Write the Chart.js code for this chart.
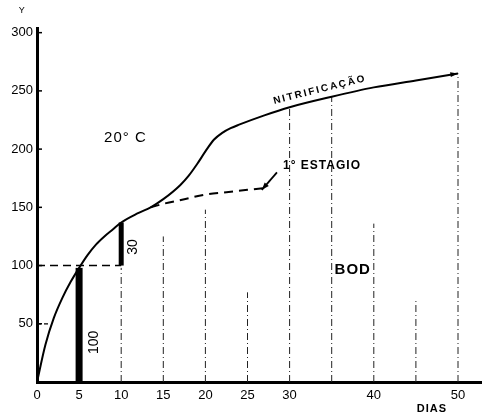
<!DOCTYPE html>
<html lang="pt">
<head>
    <meta charset="UTF-8"/>
    <title>BOD - Nitrificação</title>
    <script src="https://cdn.jsdelivr.net/npm/chart.js@4.4.0/dist/chart.umd.min.js"></script>
    <style>
        html, body { margin: 0; padding: 0; background: #fff; }
        #wrap { width: 482px; height: 418px; }
    </style>
</head>
<body>

<div id="wrap">
    <canvas id="chart" width="482" height="418"></canvas>
</div>

<script>
    // values
    const nitriDays = [0, 1, 2, 3, 4, 5, 6, 7, 8, 9, 10, 12, 13.5, 15, 17, 18, 19, 20, 21, 22, 23, 24, 27, 30, 35, 40, 45, 50];
    const nitriBod = [0, 32, 55, 72, 86, 98, 109, 118, 125, 131, 137, 145, 150, 157, 169, 177, 187, 198, 208, 214, 218, 221, 229, 236, 245, 253, 259, 265];

    const stageDays = [13.5, 15, 17.5, 20, 22.5, 25, 27.5];
    const stageBod = [150, 153, 157, 161, 163, 165, 167];

    const guideDays = [10, 15, 20, 25, 30, 35, 40, 45, 50];
    const guideTops = [98, 125, 148, 77, 236, 245, 136, 70, 265];

    const barDays = [5, 10];
    const barLow = [0, 100];
    const barHigh = [98, 137];
    const barLabels = ['100', '30'];

    const xTicks = [0, 5, 10, 15, 20, 25, 30, 40, 50];
    const yTicks = [50, 100, 150, 200, 250, 300];

    // text notes: [text, day, bod, rotation(deg), font, letter spacing]
    const notes = [
        ['20° C', 10.5, 210, 0, '15px "Liberation Sans"', '1px'],
        ['NITRIFICAÇÃO', 33.6, 251, -14, 'bold 10px "Liberation Sans"', '2px'],
        ['1° ESTAGIO', 33.85, 186, 0, 'bold 12px "Liberation Sans"', '1px'],
        ['BOD', 37.5, 96, 0, 'bold 15px "Liberation Sans"', '1px'],
        ['DIAS', 46.9, -23, 0, 'bold 11px "Liberation Sans"', '1px'],
        ['Y', -1.8, 319, 0, '9px "Liberation Sans"', '0px']
    ];

    // arrow from "1° ESTAGIO" to the end of the dashed curve
    const arrowFrom = [28.5, 180];
    const arrowTo = [26.7, 165];

    const guideData = [];
    guideDays.forEach((d, i) => {
        guideData.push({x: d, y: 0});
        guideData.push({x: d, y: guideTops[i]});
        guideData.push({x: d, y: null});
    });

    const barSets = barDays.map((d, i) => ({
        label: 'bar' + i,
        data: [{x: d, y: barLow[i]}, {x: d, y: barHigh[i]}],
        borderColor: '#000',
        borderWidth: i === 0 ? 7 : 5,
        borderCapStyle: 'butt',
        pointRadius: 0,
        order: 1
    }));

    const notesPlugin = {
        id: 'notes',
        afterDraw(chart) {
            const c = chart.ctx;
            const xs = chart.scales.x, ys = chart.scales.y;
            const px = v => xs.getPixelForValue(v);
            const py = v => ys.getPixelForValue(v);
            c.save();
            c.fillStyle = '#000';
            c.strokeStyle = '#000';

            // small inner ticks on the y axis
            c.lineWidth = 1.5;
            yTicks.forEach(t => {
                c.beginPath();
                c.moveTo(px(0), py(t));
                c.lineTo(px(0) + 5, py(t));
                c.stroke();
            });

            // texts
            c.textAlign = 'center';
            c.textBaseline = 'middle';
            notes.forEach(n => {
                c.save();
                c.font = n[4];
                c.letterSpacing = n[5];
                c.translate(px(n[1]), py(n[2]));
                c.rotate(n[3] * Math.PI / 180);
                c.fillText(n[0], 0, 0);
                c.restore();
            });

            // bar labels, written upward
            c.font = '14px "Liberation Sans"';
            barDays.forEach((d, i) => {
                const mid = (barLow[i] + barHigh[i]) / 2 - (i === 0 ? 15 : 0);
                c.save();
                c.translate(px(d) + (i === 0 ? 15 : 12), py(mid) + (i === 0 ? 0 : 3));
                c.rotate(-Math.PI / 2);
                c.fillText(barLabels[i], 0, 0);
                c.restore();
            });

            // arrow to the dashed curve
            const ax0 = px(arrowFrom[0]), ay0 = py(arrowFrom[1]);
            const ax1 = px(arrowTo[0]), ay1 = py(arrowTo[1]);
            c.lineWidth = 1.8;
            c.beginPath();
            c.moveTo(ax0, ay0);
            c.lineTo(ax1, ay1);
            c.stroke();
            let ang = Math.atan2(ay1 - ay0, ax1 - ax0);
            c.beginPath();
            c.moveTo(ax1, ay1);
            c.lineTo(ax1 - 8 * Math.cos(ang - 0.35), ay1 - 8 * Math.sin(ang - 0.35));
            c.lineTo(ax1 - 8 * Math.cos(ang + 0.35), ay1 - 8 * Math.sin(ang + 0.35));
            c.closePath();
            c.fill();

            // arrow head at the end of the nitrification curve
            const n = nitriDays.length - 1;
            const ex = px(nitriDays[n]), ey = py(nitriBod[n]);
            ang = Math.atan2(ey - py(nitriBod[n - 1]), ex - px(nitriDays[n - 1]));
            c.beginPath();
            c.moveTo(ex, ey);
            c.lineTo(ex - 8 * Math.cos(ang - 0.3), ey - 8 * Math.sin(ang - 0.3));
            c.lineTo(ex - 8 * Math.cos(ang + 0.3), ey - 8 * Math.sin(ang + 0.3));
            c.closePath();
            c.fill();

            c.restore();
        }
    };

    const ctx = document.getElementById('chart').getContext('2d');
    const myChart = new Chart(ctx, {
        type: 'line',
        data: {
            datasets: [
                {
                    label: 'Nitrificação',
                    data: nitriDays.map((d, i) => ({x: d, y: nitriBod[i]})),
                    borderColor: '#000',
                    borderWidth: 2,
                    pointRadius: 0,
                    cubicInterpolationMode: 'monotone',
                    order: 0
                },
                {
                    label: '1° Estágio',
                    data: stageDays.map((d, i) => ({x: d, y: stageBod[i]})),
                    borderColor: '#000',
                    borderWidth: 2,
                    borderDash: [9, 6],
                    pointRadius: 0,
                    cubicInterpolationMode: 'monotone',
                    order: 0
                },
                {
                    label: 'guias',
                    data: guideData,
                    borderColor: '#222',
                    borderWidth: 1,
                    borderDash: [7, 3, 1, 3],
                    pointRadius: 0,
                    spanGaps: false,
                    order: 3
                },
                {
                    label: 'linha 100',
                    data: [{x: 0, y: 100}, {x: 10, y: 100}],
                    borderColor: '#000',
                    borderWidth: 1.5,
                    borderDash: [8, 5],
                    pointRadius: 0,
                    order: 2
                },
                {
                    label: 'linha 50',
                    data: [{x: 0, y: 50}, {x: 1.4, y: 50}],
                    borderColor: '#000',
                    borderWidth: 1.2,
                    borderDash: [4, 3],
                    pointRadius: 0,
                    order: 2
                },
                ...barSets
            ]
        },
        options: {
            responsive: false,
            animation: false,
            layout: {
                padding: {top: 28, right: 0, left: 0, bottom: 0}
            },
            scales: {
                x: {
                    type: 'linear',
                    min: 0,
                    max: 52.85,
                    afterFit: s => { s.height = 36; },
                    afterBuildTicks: s => { s.ticks = xTicks.map(v => ({value: v})); },
                    grid: {display: false, drawTicks: false, tickLength: 0},
                    border: {display: true, color: '#000', width: 3},
                    ticks: {
                        color: '#000',
                        padding: 6,
                        font: {family: 'Liberation Sans', size: 13},
                        maxRotation: 0,
                        autoSkip: false
                    }
                },
                y: {
                    type: 'linear',
                    min: 0,
                    max: 304,
                    afterFit: s => { s.width = 37; },
                    afterBuildTicks: s => { s.ticks = yTicks.map(v => ({value: v})); },
                    grid: {display: false, drawTicks: false, tickLength: 0},
                    border: {display: true, color: '#000', width: 3},
                    ticks: {
                        color: '#000',
                        padding: 4,
                        font: {family: 'Liberation Sans', size: 13}
                    }
                }
            },
            plugins: {
                legend: {display: false},
                tooltip: {enabled: false}
            }
        },
        plugins: [notesPlugin]
    });
</script>

</body>
</html>
